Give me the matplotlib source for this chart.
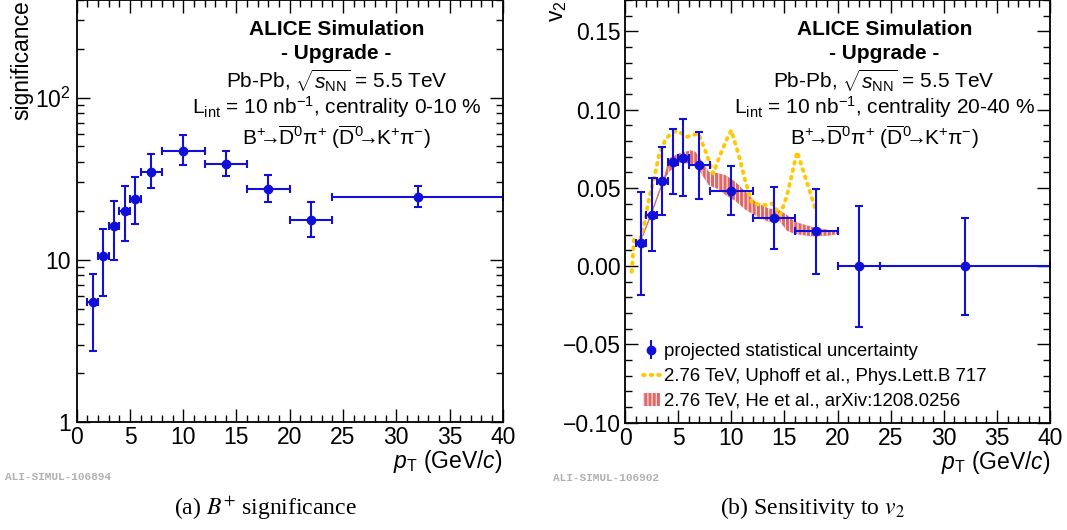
import matplotlib
matplotlib.use('Agg')
import matplotlib.pyplot as plt
from matplotlib.ticker import FuncFormatter, MultipleLocator, LogLocator, NullFormatter
from matplotlib.patches import Patch
import numpy as np

plt.rcParams['font.family'] = ['Liberation Sans', 'DejaVu Sans']
plt.rcParams['mathtext.fontset'] = 'custom'
plt.rcParams['mathtext.rm'] = 'Liberation Sans'
plt.rcParams['mathtext.it'] = 'Liberation Sans:italic'
plt.rcParams['mathtext.bf'] = 'Liberation Sans:bold'
plt.rcParams['hatch.linewidth'] = 0.7

# --- data: B+ significance (0-10 %) ---
pt = [1.5, 2.5, 3.5, 4.5, 5.5, 7, 10, 14, 18, 22, 32]
pt_half = [0.5, 0.5, 0.5, 0.5, 0.5, 1, 2, 2, 2, 2, 8]
signif = [5.5, 10.6, 16.2, 20.0, 23.7, 34.8, 47.1, 38.8, 27.3, 17.6, 24.5]
signif_hi = [8.2, 15.5, 23.0, 28.3, 32.4, 44.8, 59.1, 47.1, 33.5, 22.6, 28.6]
signif_lo = [2.75, 6.0, 10.0, 13.0, 16.6, 27.6, 38.6, 32.9, 22.8, 13.8, 21.1]

# --- data: v2 sensitivity (20-40 %) ---
v2 = [0.0145, 0.0328, 0.0541, 0.0665, 0.0692, 0.0643, 0.0481, 0.0307, 0.0224, 0.0, 0.0]
v2_hi = [0.0475, 0.056, 0.0758, 0.0875, 0.0937, 0.0854, 0.0637, 0.0507, 0.0494, 0.0385, 0.031]
v2_lo = [-0.0183, 0.0098, 0.0326, 0.0458, 0.0445, 0.043, 0.0326, 0.0109, -0.0049, -0.039, -0.031]

# Uphoff et al. curve
uph_pt = [0.63, 0.85, 1.32, 1.79, 2.26, 2.73, 3.2, 3.83, 4.6, 5.0, 5.8, 6.9, 7.6, 8.3,
          8.83, 9.46, 10.0, 10.7, 11.34, 11.97, 13.2, 13.85, 14.6, 15.26, 15.9, 16.2, 17.0, 17.9]
uph_v2 = [-0.0036, 0.0177, 0.0145, 0.0262, 0.0432, 0.056, 0.0709, 0.0815, 0.0858, 0.0862,
          0.0826, 0.0848, 0.073, 0.0592, 0.0688, 0.0794, 0.0868, 0.0709, 0.0538, 0.040,
          0.039, 0.040, 0.0326, 0.0454, 0.0645, 0.073, 0.056, 0.0368]

# He et al. band
he_pt = [1.5, 2.5, 3.67, 4.14, 5.07, 6.17, 6.64, 7.27, 7.9, 8.83, 9.46, 10.4, 11.34, 12.3,
         13.5, 14.5, 15.26, 16.0, 17.6, 19.2, 20.0]
he_hi = [0.017, 0.035, 0.057, 0.0688, 0.072, 0.074, 0.073, 0.0666, 0.0602, 0.0592, 0.0581,
         0.0538, 0.0475, 0.041, 0.0368, 0.0358, 0.0326, 0.0283, 0.0251, 0.023, 0.0215]
he_lo = [0.016, 0.033, 0.055, 0.060, 0.066, 0.0655, 0.0645, 0.058, 0.0515, 0.049, 0.0454,
         0.0415, 0.036, 0.0322, 0.0283, 0.029, 0.0225, 0.0205, 0.019, 0.0195, 0.0205]

blue = '#1010d8'
gold = '#ffc800'
red = '#e06868'
fs_tick = 16.5
fs_text = 15
dots = (0, (0.45, 1.5))

fig = plt.figure(figsize=(10.67, 5.30), dpi=100)
ax1 = fig.add_axes([0.0719, 0.2040, 0.3993, 0.7960])
ax2 = fig.add_axes([0.5858, 0.2025, 0.3983, 0.7975])


def style_axis(ax):
    ax.tick_params(which='both', direction='in', top=True, right=True, labelsize=fs_tick)
    ax.tick_params(which='major', length=9.5, width=1.0)
    ax.tick_params(which='minor', length=5, width=1.0)
    ax.tick_params(axis='x', pad=3)
    ax.set_xlim(0, 40)
    ax.xaxis.set_major_locator(MultipleLocator(5))
    ax.xaxis.set_minor_locator(MultipleLocator(1))
    for s in ax.spines.values():
        s.set_linewidth(1.3)
    ax.text(1.0, -0.094, r'$p_{\mathrm{T}}$ (GeV/$c$)', transform=ax.transAxes,
            ha='right', va='center', fontsize=fs_tick)


def header(ax, centrality):
    x0 = 0.61
    ax.text(x0, 0.931, 'ALICE Simulation', transform=ax.transAxes, ha='center', va='center',
            fontsize=fs_text, fontweight='bold')
    ax.text(x0, 0.874, '- Upgrade -', transform=ax.transAxes, ha='center', va='center',
            fontsize=fs_text, fontweight='bold')
    ax.text(x0, 0.81, r'Pb-Pb, $\sqrt{s_{\mathrm{NN}}}$ = 5.5 TeV', transform=ax.transAxes,
            ha='center', va='center', fontsize=fs_text)
    ax.text(x0, 0.746, r'L$_{\mathrm{int}}$ = 10 nb$^{\mathrm{-1}}$, centrality ' + centrality,
            transform=ax.transAxes, ha='center', va='center', fontsize=fs_text)
    ax.text(x0, 0.675,
            r'B$^{+}\!\!\!\rightarrow\!\!\overline{\mathrm{D}}^{0}\mathrm{\pi}^{+}$ '
            r'($\overline{\mathrm{D}}^{0}\!\!\!\rightarrow\!\!$K$^{+}\mathrm{\pi}^{-}$)',
            transform=ax.transAxes, ha='center', va='center', fontsize=fs_text)


# ---------- left panel ----------
s = np.array(signif)
ax1.errorbar(pt, signif, xerr=pt_half,
             yerr=[s - np.array(signif_lo), np.array(signif_hi) - s],
             fmt='o', color=blue, ms=6, elinewidth=1.5, capsize=3, capthick=1.5)
ax1.set_yscale('log')
ax1.set_ylim(1, 400)
ax1.yaxis.set_major_locator(LogLocator(base=10, numticks=10))
ax1.yaxis.set_minor_locator(LogLocator(base=10, subs=np.arange(2, 10), numticks=20))
ax1.yaxis.set_minor_formatter(NullFormatter())
labels_log = {1: '1', 10: '10', 100: r'$10^{2}$'}
ax1.yaxis.set_major_formatter(FuncFormatter(lambda v, p: labels_log.get(int(round(v)), '')))
style_axis(ax1)
ax1.tick_params(axis='y', pad=4)
ax1.text(-0.128, 1.0, 'significance', transform=ax1.transAxes, rotation=90,
         ha='center', va='top', fontsize=fs_tick)
header(ax1, '0-10 %')

# ---------- right panel ----------
ax2.fill_between(he_pt, he_lo, he_hi, facecolor=red, edgecolor='white', hatch='||||', linewidth=0)
ax2.plot(he_pt[:4], (np.array(he_lo[:4]) + np.array(he_hi[:4])) / 2, color=red, lw=0.8)
ax2.plot(uph_pt, uph_v2, color=gold, lw=2.8, linestyle=dots, dash_capstyle='round')
v = np.array(v2)
ax2.errorbar(pt, v2, xerr=pt_half, yerr=[v - np.array(v2_lo), np.array(v2_hi) - v],
             fmt='o', color=blue, ms=6, elinewidth=1.5, capsize=3, capthick=1.5)
ax2.set_ylim(-0.10, 0.17)
ax2.yaxis.set_major_locator(MultipleLocator(0.05))
ax2.yaxis.set_minor_locator(MultipleLocator(0.01))
ax2.yaxis.set_major_formatter(FuncFormatter(
    lambda val, p: ('%.2f' % (0.0 if abs(val) < 1e-9 else val)).replace('-', '\u2212')))
style_axis(ax2)
ax2.tick_params(axis='y', pad=3)
ax2.text(-0.158, 1.0, r'v$_{2}$', transform=ax2.transAxes, rotation=90,
         ha='center', va='top', fontsize=fs_tick)
header(ax2, '20-40 %')

# legend
h_pts = ax2.errorbar([np.nan], [np.nan], yerr=[1.0], fmt='o', color=blue, ms=6,
                     elinewidth=1.5, capsize=0)
h_uph, = ax2.plot([np.nan], [np.nan], color=gold, lw=2.8, linestyle=dots,
                  dash_capstyle='round')
h_he = Patch(facecolor=red, edgecolor='white', hatch='||||', linewidth=0)
ax2.legend([h_pts, h_uph, h_he],
           ['projected statistical uncertainty',
            '2.76 TeV, Uphoff et al., Phys.Lett.B 717',
            '2.76 TeV, He et al., arXiv:1208.0256'],
           loc='lower left', bbox_to_anchor=(0.042, 0.03), frameon=False,
           fontsize=13.4, handlelength=0.9, handletextpad=0.25, labelspacing=0.42,
           borderpad=0, borderaxespad=0)

# watermarks and captions
fig.text(5 / 1067, 1 - 477 / 530, 'ALI-SIMUL-106894', ha='left', va='center',
         fontsize=8, family='Liberation Mono', fontweight='bold', color='#b0b0b0')
fig.text(553 / 1067, 1 - 478 / 530, 'ALI-SIMUL-106902', ha='left', va='center',
         fontsize=8, family='Liberation Mono', fontweight='bold', color='#b0b0b0')
fig.text(265 / 1067, 1 - 508 / 530, r'(a) $B^{+}$ significance', ha='center', va='center',
         fontsize=17, family='Liberation Serif', math_fontfamily='stix')
fig.text(813 / 1067, 1 - 508 / 530, r'(b) Sensitivity to $v_{2}$', ha='center', va='center',
         fontsize=17, family='Liberation Serif', math_fontfamily='stix')

fig.savefig('out.png', dpi=100)
